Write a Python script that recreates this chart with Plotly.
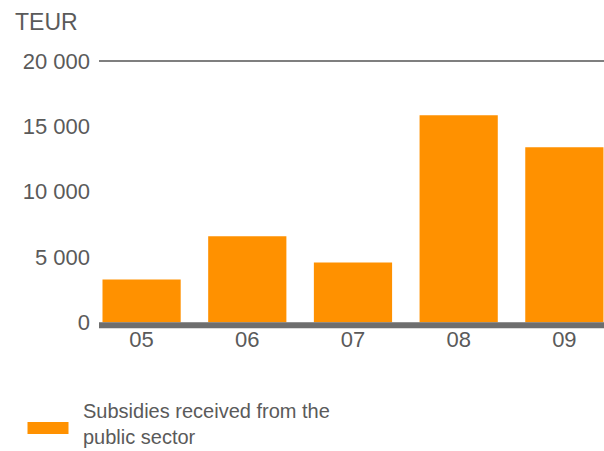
import plotly.graph_objects as go

# Data
categories = ["05", "06", "07", "08", "09"]
values = [3270, 6570, 4570, 15840, 13390]
series_name = "Subsidies received from the public sector"
legend_text = "Subsidies received from the<br>public sector"
y_ticks = [0, 5000, 10000, 15000, 20000]
unit_label = "TEUR"

BAR_COLOR = "#FF9100"
TEXT_COLOR = "#5a5a5a"
FONT = "Liberation Sans, Arial, sans-serif"

W, H = 604, 451
ML, MR, MT, MB = 99, 0, 57, 121
PW, PH = W - ML - MR, H - MT - MB


def px_x(px):
    return (px - ML) / PW


def px_y(py):
    return (MT + PH - py) / PH


fig = go.Figure()
fig.add_trace(go.Bar(
    x=categories, y=values, name=series_name,
    marker=dict(color=BAR_COLOR, line=dict(width=0)),
    width=0.74, showlegend=False,
))

fig.update_layout(
    width=W, height=H,
    margin=dict(l=ML, r=MR, t=MT, b=MB, pad=0),
    paper_bgcolor="white", plot_bgcolor="white",
    separators=". ",
    font=dict(family=FONT, size=22, color=TEXT_COLOR),
    xaxis=dict(
        type="category", range=[-0.403, 4.375],
        showgrid=False, zeroline=False, showline=False, ticks="",
        tickfont=dict(size=22, color=TEXT_COLOR), ticklabelstandoff=-6,
    ),
    yaxis=dict(
        range=[-600, 20300], tickvals=y_ticks, tickformat=",d",
        showgrid=False, zeroline=False, showline=False, ticks="",
        tickfont=dict(size=22, color=TEXT_COLOR), ticklabelstandoff=8,
    ),
    shapes=[
        # top gridline at 20 000
        dict(type="line", xref="paper", yref="y", x0=0, x1=1, y0=20000, y1=20000,
             line=dict(color="#555555", width=1.5)),
        # baseline bar under zero
        dict(type="rect", xref="paper", yref="y", x0=0, x1=1, y0=-460, y1=0,
             fillcolor="#6E6E6E", line=dict(width=0), layer="above"),
        # legend swatch
        dict(type="rect", xref="paper", yref="paper",
             x0=px_x(27.5), x1=px_x(68.5), y0=px_y(434), y1=px_y(422),
             fillcolor=BAR_COLOR, line=dict(width=0)),
    ],
    annotations=[
        dict(text=unit_label, xref="paper", yref="paper", x=px_x(13), y=px_y(22),
             xanchor="left", yanchor="middle", showarrow=False,
             font=dict(size=23, color=TEXT_COLOR)),
        dict(text=legend_text, xref="paper", yref="paper",
             x=px_x(81), y=px_y(424), xanchor="left", yanchor="middle", showarrow=False,
             align="left", font=dict(size=20, color=TEXT_COLOR)),
    ],
)

fig.write_html("out.html")
